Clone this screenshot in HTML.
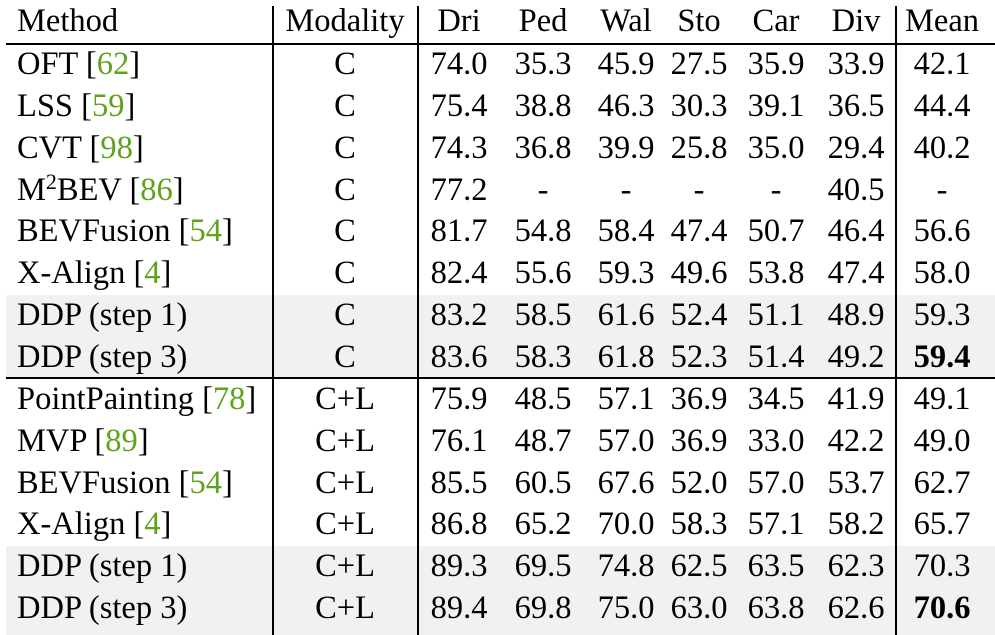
<!DOCTYPE html>
<html><head><meta charset="utf-8"><style>
body{margin:0;width:995px;height:635px;background:#fff;overflow:hidden;position:relative;font-family:"Liberation Serif",serif;color:#000}
.c{position:absolute;font-size:32.5px;line-height:42px;height:42px;white-space:nowrap}
.shade{position:absolute;left:6px;right:0;background:#f1f1f1}
.hl{position:absolute;left:6px;right:0;height:2px;background:#000}
.vl{position:absolute;top:6px;bottom:0;width:2px;background:#000}
.ref{color:#5ea31a}
</style></head><body>
<div class="shade" style="top:295px;height:83px"></div>
<div class="shade" style="top:546px;height:89px"></div>
<div class="hl" style="top:43px"></div>
<div class="hl" style="top:377px"></div>
<div class="vl" style="left:272px"></div>
<div class="vl" style="left:417px"></div>
<div class="vl" style="left:895px"></div>
<script>
const headers=["Dri","Ped","Wal","Sto","Car","Div","Mean"];
const methods=["OFT [<span class=ref>62</span>]","LSS [<span class=ref>59</span>]","CVT [<span class=ref>98</span>]","M<sup style='font-size:22px;line-height:0;vertical-align:11px'>2</sup>BEV [<span class=ref>86</span>]","BEVFusion [<span class=ref>54</span>]","X-Align [<span class=ref>4</span>]","DDP (step 1)","DDP (step 3)","PointPainting [<span class=ref>78</span>]","MVP [<span class=ref>89</span>]","BEVFusion [<span class=ref>54</span>]","X-Align [<span class=ref>4</span>]","DDP (step 1)","DDP (step 3)"];
const modality=["C","C","C","C","C","C","C","C","C+L","C+L","C+L","C+L","C+L","C+L"];
const values=[
["74.0","35.3","45.9","27.5","35.9","33.9","42.1"],
["75.4","38.8","46.3","30.3","39.1","36.5","44.4"],
["74.3","36.8","39.9","25.8","35.0","29.4","40.2"],
["77.2","-","-","-","-","40.5","-"],
["81.7","54.8","58.4","47.4","50.7","46.4","56.6"],
["82.4","55.6","59.3","49.6","53.8","47.4","58.0"],
["83.2","58.5","61.6","52.4","51.1","48.9","59.3"],
["83.6","58.3","61.8","52.3","51.4","49.2","59.4"],
["75.9","48.5","57.1","36.9","34.5","41.9","49.1"],
["76.1","48.7","57.0","36.9","33.0","42.2","49.0"],
["85.5","60.5","67.6","52.0","57.0","53.7","62.7"],
["86.8","65.2","70.0","58.3","57.1","58.2","65.7"],
["89.3","69.5","74.8","62.5","63.5","62.3","70.3"],
["89.4","69.8","75.0","63.0","63.8","62.6","70.6"]];
const bold=[7,13];
const colX=[459,543,626,699,776,856,942];
function cell(txt,cx,cy,name,left,b){
 const d=document.createElement('div');
 d.className='c';
 d.innerHTML=txt;
 d.style.top=(cy-21)+'px';
 if(left){d.style.left=cx+'px';}else{d.style.left=(cx-60)+'px';d.style.width='120px';d.style.textAlign='center';}
 if(b)d.style.fontWeight='bold';
 
 
 document.body.appendChild(d);
}
cell("Method",17,21,"method-header",true);
cell("Modality",345,21,"modality-header",false);
headers.forEach((h,i)=>cell(h,colX[i],21,h.toLowerCase()+"-header",false));
methods.forEach((m,r)=>{
 const cy=64+r*41.85;
 cell(m,17,cy,"method-name",true);
 cell(modality[r],345,cy,"modality-value",false);
 values[r].forEach((v,i)=>cell(v,colX[i],cy,headers[i].toLowerCase()+"-value",false,i==6&&bold.includes(r)));
});
</script>
</body></html>
